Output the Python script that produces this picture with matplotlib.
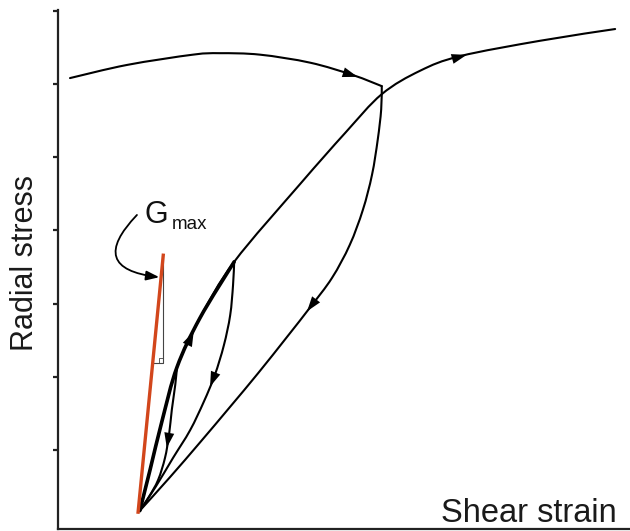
import numpy as np
import matplotlib
matplotlib.use('Agg')
import matplotlib.pyplot as plt
from matplotlib.path import Path
from matplotlib.patches import PathPatch

plt.rcParams['font.family'] = ['Liberation Sans', 'DejaVu Sans']

# Curves (strain, stress) in arbitrary units
# backbone loading: origin -> small loop tip (idx 3) -> mid loop tip (idx 5) -> big loop tip (idx 8) -> beyond
load_x = [1.43, 1.61, 1.82, 2.08, 2.48, 3.08, 4.23, 5.02, 5.66, 6.33, 7.03, 8.43, 9.74]
load_y = [0.17, 0.73, 1.40, 2.13, 2.80, 3.57, 4.63, 5.33, 5.86, 6.18, 6.38, 6.59, 6.75]

# earlier path coming in from the left
top_x = [0.21, 1.21, 2.36, 2.83, 3.53, 4.41, 5.16, 5.66]
top_y = [6.08, 6.26, 6.40, 6.42, 6.40, 6.29, 6.12, 5.97]

# unloading from big loop tip back to origin
unl_big_x = [5.66, 5.65, 5.59, 5.49, 5.33, 5.10, 4.79, 4.41, 4.00, 3.50, 3.01, 2.48, 1.96, 1.43]
unl_big_y = [5.97, 5.65, 5.24, 4.76, 4.28, 3.80, 3.35, 2.95, 2.54, 2.05, 1.59, 1.10, 0.63, 0.17]

# unloading from mid loop tip
unl_mid_x = [3.08, 3.06, 3.01, 2.90, 2.74, 2.55, 2.31, 2.01, 1.71, 1.43]
unl_mid_y = [3.57, 3.25, 2.84, 2.43, 2.02, 1.66, 1.27, 0.89, 0.50, 0.17]

# unloading from small loop tip
unl_small_x = [2.08, 2.05, 1.99, 1.94, 1.87, 1.75, 1.59, 1.43]
unl_small_y = [2.13, 1.89, 1.55, 1.20, 0.89, 0.59, 0.36, 0.17]

# initial stiffness line
gmax_x = [1.40, 1.84]
gmax_y = [0.15, 3.66]

fig = plt.figure(figsize=(6.3, 5.31), dpi=100)
ax = fig.add_axes([58 / 630, 2 / 531, 1 - 58 / 630, 519 / 531])
ax.set_xlim(0, 10)
ax.set_ylim(-0.08, 7.01)


def smooth(xs, ys, lw=1.5, color='black'):
    # catmull-rom through the read points, drawn as bezier path
    p = np.column_stack([xs, ys])
    p = np.vstack([p[0], p, p[-1]])
    verts = [p[1]]
    codes = [Path.MOVETO]
    for i in range(1, len(p) - 2):
        c1 = p[i] + (p[i + 1] - p[i - 1]) / 6
        c2 = p[i + 1] - (p[i + 2] - p[i]) / 6
        verts += [c1, c2, p[i + 1]]
        codes += [Path.CURVE4] * 3
    ax.add_patch(PathPatch(Path(verts, codes), fill=False, lw=lw, edgecolor=color,
                           capstyle='round', joinstyle='round'))


def arrow_on(xs, ys, t, size=18):
    # put an arrow head on a curve at fraction t of its length (display space)
    pts = ax.transData.transform(np.column_stack([xs, ys]))
    seg = np.hypot(*np.diff(pts, axis=0).T)
    s = np.concatenate([[0], np.cumsum(seg)])
    s0 = t * s[-1]
    inv = ax.transData.inverted()
    a = inv.transform([[np.interp(s0 - 8, s, pts[:, 0]), np.interp(s0 - 8, s, pts[:, 1])]])[0]
    b = inv.transform([[np.interp(s0 + 6, s, pts[:, 0]), np.interp(s0 + 6, s, pts[:, 1])]])[0]
    ax.annotate('', xy=b, xytext=a,
                arrowprops=dict(arrowstyle='-|>,head_length=0.6,head_width=0.2',
                                mutation_scale=size, color='black', lw=0,
                                shrinkA=0, shrinkB=0))


smooth(load_x, load_y)
smooth(load_x[:6], load_y[:6], lw=2.6)
smooth(top_x, top_y)
smooth(unl_big_x, unl_big_y)
smooth(unl_mid_x, unl_mid_y)
smooth(unl_small_x, unl_small_y)

arrow_on(top_x, top_y, 0.90)
arrow_on(load_x[8:], load_y[8:], 0.36)
arrow_on(unl_big_x, unl_big_y, 0.47)
arrow_on(load_x[3:6], load_y[3:6], 0.28)
arrow_on(unl_mid_x, unl_mid_y, 0.45)
arrow_on(unl_small_x, unl_small_y, 0.50)

# Gmax line and slope triangle
ax.plot(gmax_x, gmax_y, color='#d2461c', lw=2.4, zorder=3)
tri_y = 2.19
tri_x = gmax_x[0] + (tri_y - gmax_y[0]) / (gmax_y[1] - gmax_y[0]) * (gmax_x[1] - gmax_x[0])
ax.plot([gmax_x[1], gmax_x[1], tri_x], [gmax_y[1], tri_y, tri_y], color='#444444', lw=0.8, zorder=2)
ax.plot([gmax_x[1] - 0.08, gmax_x[1] - 0.08, gmax_x[1]], [tri_y, tri_y + 0.07, tri_y + 0.07],
        color='#444444', lw=0.6, zorder=2)

ax.text(1.51, 4.10, 'G', fontsize=22, ha='left', va='baseline', color='#111111')
ax.text(1.99, 4.02, 'max', fontsize=13.5, ha='left', va='baseline', color='#111111')
ax.annotate('', xy=(1.77, 3.36), xytext=(1.38, 4.21),
            arrowprops=dict(arrowstyle='-|>,head_length=0.6,head_width=0.22',
                            mutation_scale=13, color='black', lw=1.3,
                            connectionstyle='arc3,rad=1.0', shrinkA=0, shrinkB=0))

# axes styling
for side in ['top', 'right']:
    ax.spines[side].set_visible(False)
for side in ['left', 'bottom']:
    ax.spines[side].set_linewidth(1.6)
    ax.spines[side].set_color('#222222')
ax.set_yticks(range(1, 8))
ax.set_yticklabels([])
ax.set_xticks([])
ax.tick_params(axis='y', direction='out', length=3.5, width=1.6, color='#222222')

fig.text(25 / 630, 1 - 263 / 531, 'Radial stress', rotation=90, fontsize=22,
         ha='center', va='center', color='#1a1a1a')
fig.text(617 / 630, (531 - 522) / 531, 'Shear strain', fontsize=23.5,
         ha='right', va='baseline', color='#1a1a1a')

fig.savefig('out.png', dpi=100)
